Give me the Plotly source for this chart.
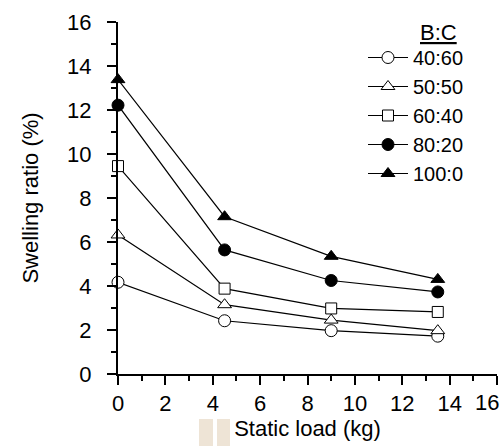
import plotly.graph_objects as go

# ---- data ----
static_load = [0, 4.5, 9, 13.5]
series_names = ["40:60", "50:50", "60:40", "80:20", "100:0"]
ratio_40_60 = [4.17, 2.42, 1.97, 1.72]
ratio_50_50 = [6.32, 3.15, 2.45, 1.97]
ratio_60_40 = [9.45, 3.88, 2.98, 2.82]
ratio_80_20 = [12.22, 5.64, 4.25, 3.73]
ratio_100_0 = [13.38, 7.15, 5.35, 4.3]
x_ticks = [0, 2, 4, 6, 8, 10, 12, 14, 16]
x_tick_text = ["0", "2", "4", "6", "8", "10", "12", "14", ""]  # "16" drawn as annotation (kept inside canvas)
y_ticks = [0, 2, 4, 6, 8, 10, 12, 14, 16]

series_values = [ratio_40_60, ratio_50_50, ratio_60_40, ratio_80_20, ratio_100_0]
symbols = ["circle", "triangle-up", "square", "circle", "triangle-up"]
fills = ["white", "white", "white", "black", "black"]
sizes = [12, 12, 11, 12, 12]

FONT = "Liberation Sans, Arial, sans-serif"
FS = 22

fig = go.Figure()
for name, vals, sym, fc, sz in zip(series_names, series_values, symbols, fills, sizes):
    fig.add_trace(go.Scatter(
        x=static_load, y=vals, name=name, mode="lines+markers",
        line=dict(color="black", width=1.2),
        marker=dict(symbol=sym, size=sz, color=fc, line=dict(color="black", width=1)),
        cliponaxis=False,
    ))

axis_common = dict(
    showline=True, linecolor="black", linewidth=2,
    ticks="outside", ticklen=9, tickwidth=2, tickcolor="black",
    showgrid=False, zeroline=False,
    tickfont=dict(family=FONT, size=FS, color="black"),
    minor=dict(ticks="outside", ticklen=5, tickwidth=2, tickcolor="black", dtick=1, showgrid=False),
    range=[0, 16], tickmode="array",
)

fig.update_layout(
    width=504, height=446,
    margin=dict(l=118, r=7, t=22, b=72),
    plot_bgcolor="white", paper_bgcolor="white",
    font=dict(family=FONT, size=FS, color="black"),
    xaxis=dict(axis_common, tickvals=x_ticks, ticktext=x_tick_text, ticklabelstandoff=0,
               title=dict(text="Static load (kg)", font=dict(family=FONT, size=FS), standoff=0)),
    yaxis=dict(axis_common, tickvals=y_ticks, ticklabelstandoff=11,
               title=dict(text="Swelling ratio (%)", font=dict(family=FONT, size=FS), standoff=22)),
    showlegend=True,
    legend=dict(x=(363-118)/379, y=(374-38)/352, xanchor="left", yanchor="top",
                font=dict(family=FONT, size=20, color="black"),
                bgcolor="rgba(0,0,0,0)", itemwidth=40, tracegroupgap=0),
    annotations=[
        dict(text="<u>B:C</u>", x=(438-118)/379, y=(374-32)/352, xref="paper", yref="paper",
             xanchor="center", yanchor="middle", showarrow=False,
             font=dict(family=FONT, size=FS, color="black")),
        dict(text=str(x_ticks[-1]), x=(501-118)/379, y=(374-403)/352, xref="paper", yref="paper",
             xanchor="right", yanchor="middle", showarrow=False,
             font=dict(family=FONT, size=FS, color="black")),
    ],
    shapes=[
        dict(type="rect", xref="paper", yref="paper", x0=(199-118)/379, x1=(213-118)/379,
             y0=(374-446)/352, y1=(374-419)/352, fillcolor="#EEE4D6", line=dict(width=0), layer="below"),
        dict(type="rect", xref="paper", yref="paper", x0=(217-118)/379, x1=(230-118)/379,
             y0=(374-446)/352, y1=(374-419)/352, fillcolor="#EEE4D6", line=dict(width=0), layer="below"),
    ],
)

fig.write_html("out.html")
